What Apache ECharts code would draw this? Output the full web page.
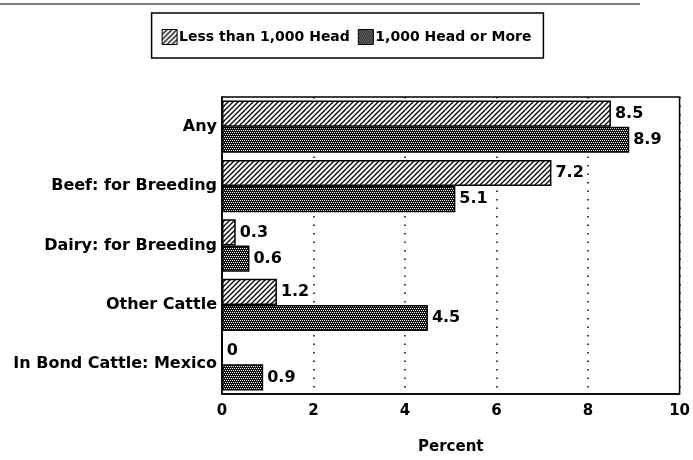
<!DOCTYPE html>
<html><head><meta charset="utf-8">
<script src="https://cdn.jsdelivr.net/npm/echarts@6/dist/echarts.min.js"></script>
<style>html,body{margin:0;padding:0;background:#fff}#c{width:693px;height:460px}</style>
</head><body><div id="c"></div>
<script>
const categories = ["Any", "Beef: for Breeding", "Dairy: for Breeding", "Other Cattle", "In Bond Cattle: Mexico"];
const lessThan1000 = [8.5, 7.2, 0.3, 1.2, 0];
const moreThan1000 = [8.9, 5.1, 0.6, 4.5, 0.9];
const seriesNames = ["Less than 1,000 Head", "1,000 Head or More"];
const xTicks = [0, 2, 4, 6, 8, 10];

function hatch() {
  const c = document.createElement('canvas'); c.width = 5; c.height = 5;
  const g = c.getContext('2d');
  g.fillStyle = '#fff'; g.fillRect(0, 0, 5, 5);
  g.strokeStyle = '#000'; g.lineWidth = 1.3;
  g.beginPath();
  g.moveTo(-1, 6); g.lineTo(6, -1);
  g.moveTo(-1, 1); g.lineTo(1, -1);
  g.moveTo(4, 6); g.lineTo(6, 4);
  g.stroke();
  return c;
}
function cross() {
  const c = document.createElement('canvas'); c.width = 4; c.height = 4;
  const g = c.getContext('2d');
  g.fillStyle = '#111'; g.fillRect(0, 0, 4, 4);
  g.fillStyle = '#fff';
  g.fillRect(0, 0, 1, 1); g.fillRect(2, 0, 1, 1);
  g.fillRect(1, 2, 1, 1); g.fillRect(3, 2, 1, 1);
  return c;
}
const pHatch = { image: hatch(), repeat: 'repeat' };
const pCross = { image: cross(), repeat: 'repeat' };
const font = '"DejaVu Sans", Verdana, sans-serif';

const chart = echarts.init(document.getElementById('c'));
chart.setOption({
  animation: false,
  backgroundColor: '#fff',
  textStyle: { fontFamily: font },
  graphic: [{ type: 'line', shape: { x1: 0, y1: 4, x2: 640, y2: 4 }, style: { stroke: '#555', lineWidth: 1.5 } }],
  legend: {
    top: 13, left: 'center',
    padding: [16, 12, 13, 10],
    borderColor: '#000', borderWidth: 1.5,
    icon: 'rect',
    itemWidth: 15, itemHeight: 15, itemGap: 8,
    itemStyle: { borderColor: '#000', borderWidth: 1 },
    textStyle: { fontFamily: font, fontWeight: 'bold', fontSize: 14, color: '#000', padding: [0, 0, 0, -3] },
    data: seriesNames
  },
  grid: { left: 222, right: 11, top: 97, bottom: 56, show: true, borderColor: '#000', borderWidth: 1.5, containLabel: false },
  xAxis: {
    type: 'value', min: 0, max: 10, interval: 2,
    name: 'Percent', nameLocation: 'middle', nameGap: 46,
    nameTextStyle: { fontFamily: font, fontWeight: 'bold', fontSize: 15, color: '#000' },
    axisLine: { show: true, lineStyle: { color: '#000', width: 1.5 } },
    axisTick: { show: false },
    axisLabel: { fontFamily: font, fontWeight: 'bold', fontSize: 15, color: '#000', margin: 10,
      formatter: v => xTicks.includes(v) ? String(v) : '' },
    splitLine: { show: true, lineStyle: { color: '#000', type: [1.5, 7], width: 1.5 } }
  },
  yAxis: {
    type: 'category', data: categories, inverse: true,
    axisLine: { show: true, lineStyle: { color: '#000', width: 1.5 } },
    axisTick: { show: false },
    axisLabel: { fontFamily: font, fontWeight: 'bold', fontSize: 16, color: '#000', margin: 5, padding: [6, 0, 0, 0] }
  },
  series: [
    { name: seriesNames[0], type: 'bar', data: lessThan1000, barGap: '0%', barCategoryGap: '12%',
      itemStyle: { color: pHatch, borderColor: '#000', borderWidth: 1.5 },
      label: { show: true, position: 'right', distance: 4, fontFamily: font, fontWeight: 'bold', fontSize: 16, color: '#000' } },
    { name: seriesNames[1], type: 'bar', data: moreThan1000, barGap: '0%', barCategoryGap: '12%',
      itemStyle: { color: pCross, borderColor: '#000', borderWidth: 1.5 },
      label: { show: true, position: 'right', distance: 4, fontFamily: font, fontWeight: 'bold', fontSize: 16, color: '#000' } }
  ]
});
</script></body></html>
